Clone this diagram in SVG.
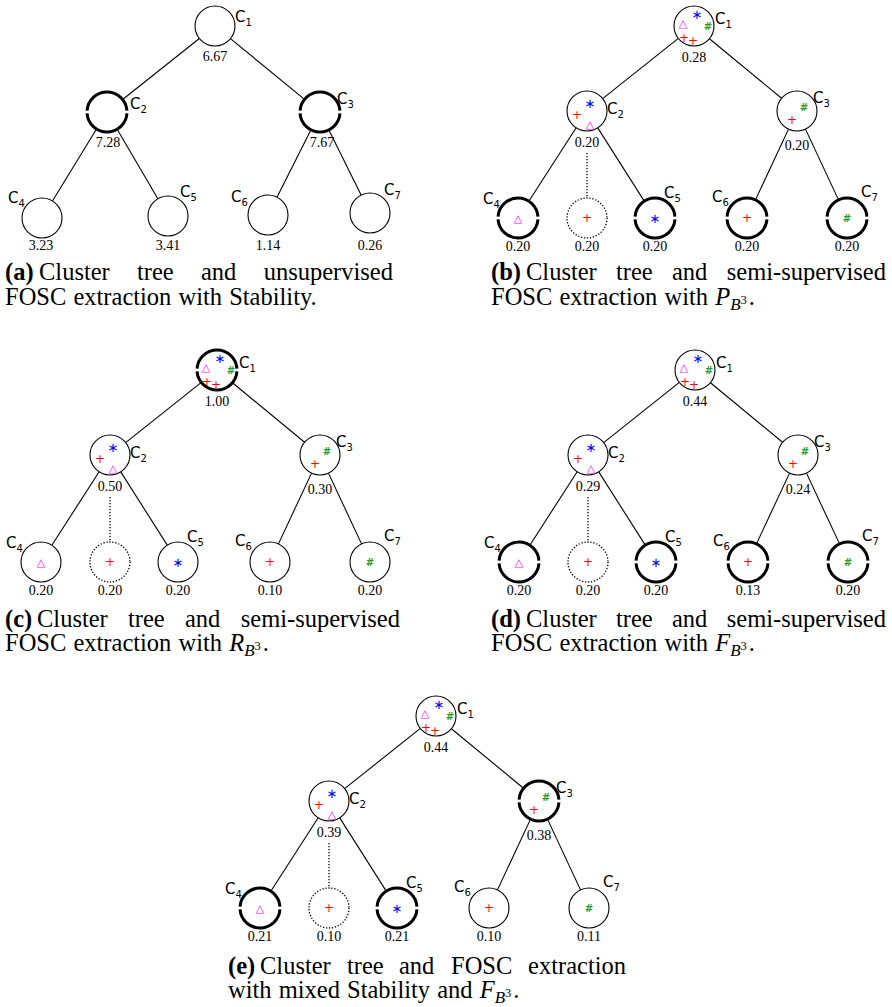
<svg xmlns="http://www.w3.org/2000/svg" xmlns:xlink="http://www.w3.org/1999/xlink" width="892" height="1007" viewBox="0 0 892 1007">
<style>
.e{stroke:#000;stroke-width:1.1;fill:none}
.dl{stroke:#000;stroke-width:1.3;stroke-dasharray:1.3 1.7;fill:none}
.n{fill:#fff;stroke:#000;stroke-width:1.1}
.k{fill:none;stroke:#000;stroke-width:3}
.dc{fill:#fff;stroke:#000;stroke-width:1.3;stroke-dasharray:1.3 1.7}
.v{font-family:"Liberation Serif",serif;font-size:14px;text-anchor:middle;fill:#000}
.l{font-family:"DejaVu Sans",sans-serif;font-size:15px;fill:#000}
.s{font-family:"DejaVu Sans",sans-serif;text-anchor:middle;dominant-baseline:central}
.sr{fill:#ff0000;font-size:12px}
.sb{fill:#0000ff;font-size:13px}
.sg{fill:#2e9b2e;font-size:10px;font-weight:bold}
.sm{fill:#ff00ff;font-size:11px;font-weight:bold}
.cap{font-family:"Liberation Serif",serif;font-size:24.5px;fill:#000}
.bf{font-weight:bold}
.it{font-style:italic}
.end{text-anchor:end}
</style>
<defs>
<path id="tk" class="k" d="M-19.95,-1.4 A20,20 0 0 1 19.95,-1.4 M19.95,1.4 A20,20 0 0 1 -19.95,1.4"/>
</defs>
<rect width="892" height="1007" fill="#fff"/>

<!-- Panel (a) -->
<g id="panel-a">
<g id="a-edges" class="e">
<line x1="199.35" y1="38.46" x2="122.65" y2="99.54"/>
<line x1="230.47" y1="38.67" x2="304.53" y2="99.33"/>
<line x1="96.54" y1="129.05" x2="52.46" y2="200.95"/>
<line x1="117.12" y1="129.25" x2="157.88" y2="198.75"/>
<line x1="310.99" y1="129.85" x2="277.01" y2="197.15"/>
<line x1="328.87" y1="129.92" x2="361.13" y2="195.08"/>
</g>
<g id="a-c1"><circle class="n" cx="215" cy="26" r="20"/><text class="l" x="235" y="22">C<tspan font-size="10" dy="4">1</tspan></text><text class="v" x="215" y="61">6.67</text></g>
<g id="a-c2"><use xlink:href="#tk" x="107" y="112"/><text class="l" x="130" y="109">C<tspan font-size="10" dy="4">2</tspan></text><text class="v" x="108" y="147">7.28</text></g>
<g id="a-c3"><use xlink:href="#tk" x="320" y="112"/><text class="l" x="337" y="104">C<tspan font-size="10" dy="4">3</tspan></text><text class="v" x="322" y="147">7.67</text></g>
<g id="a-c4"><circle class="n" cx="42" cy="218" r="20"/><text class="l" x="8" y="203">C<tspan font-size="10" dy="4">4</tspan></text><text class="v" x="41" y="250">3.23</text></g>
<g id="a-c5"><circle class="n" cx="168" cy="216" r="20"/><text class="l" x="180" y="197">C<tspan font-size="10" dy="4">5</tspan></text><text class="v" x="168" y="250">3.41</text></g>
<g id="a-c6"><circle class="n" cx="268" cy="215" r="20"/><text class="l" x="231" y="202">C<tspan font-size="10" dy="4">6</tspan></text><text class="v" x="268" y="250">1.14</text></g>
<g id="a-c7"><circle class="n" cx="370" cy="213" r="20"/><text class="l" x="384" y="195">C<tspan font-size="10" dy="4">7</tspan></text><text class="v" x="370" y="250">0.26</text></g>
</g>

<!-- Panel (b) -->
<g id="panel-b" transform="translate(477,-344)">
<g id="b-edges">
<line class="e" x1="201.34" y1="382.44" x2="125.66" y2="442.56"/>
<line class="e" x1="232.43" y1="382.73" x2="304.57" y2="442.27"/>
<line class="e" x1="99.16" y1="471.81" x2="51.84" y2="545.19"/>
<line class="e" x1="120.73" y1="471.88" x2="167.27" y2="545.12"/>
<line class="dl" x1="110" y1="497" x2="110" y2="542"/>
<line class="e" x1="311.53" y1="473.12" x2="278.47" y2="543.88"/>
<line class="e" x1="328.47" y1="473.12" x2="361.53" y2="543.88"/>
</g>
<g id="b-c1"><circle class="n" cx="217" cy="370" r="20"/>
<text class="s sb" x="220" y="358">∗</text><text class="s sm" x="206" y="367">△</text><text class="s sg" x="231" y="370">#</text><text class="s sr" x="207" y="382">+</text><text class="s sr" x="216" y="385">+</text>
<text class="l" x="238" y="368">C<tspan font-size="10" dy="4">1</tspan></text><text class="v" x="217" y="406">0.28</text></g>
<g id="b-c2"><circle class="n" cx="110" cy="455" r="20"/>
<text class="s sb" x="113" y="447">∗</text><text class="s sr" x="100" y="459">+</text><text class="s sm" x="113" y="468">△</text>
<text class="l" x="130" y="458">C<tspan font-size="10" dy="4">2</tspan></text><text class="v" x="110" y="491">0.20</text></g>
<g id="b-c3"><circle class="n" cx="320" cy="455" r="20"/>
<text class="s sg" x="327" y="451">#</text><text class="s sr" x="315" y="464">+</text>
<text class="l" x="336" y="447">C<tspan font-size="10" dy="4">3</tspan></text><text class="v" x="320" y="494">0.20</text></g>
<g id="b-c4"><use xlink:href="#tk" x="41" y="562"/><text class="s sm" x="41" y="562">△</text>
<text class="l" x="6" y="548">C<tspan font-size="10" dy="4">4</tspan></text><text class="v" x="41" y="595">0.20</text></g>
<g id="b-d"><circle class="dc" cx="110" cy="562" r="20"/><text class="s sr" x="110" y="562">+</text><text class="v" x="110" y="595">0.20</text></g>
<g id="b-c5"><use xlink:href="#tk" x="178" y="562"/><text class="s sb" x="178" y="562">∗</text>
<text class="l" x="187" y="542">C<tspan font-size="10" dy="4">5</tspan></text><text class="v" x="178" y="595">0.20</text></g>
<g id="b-c6"><use xlink:href="#tk" x="270" y="562"/><text class="s sr" x="270" y="562">+</text>
<text class="l" x="235" y="546">C<tspan font-size="10" dy="4">6</tspan></text><text class="v" x="270" y="595">0.20</text></g>
<g id="b-c7"><use xlink:href="#tk" x="370" y="562"/><text class="s sg" x="370" y="562">#</text>
<text class="l" x="384" y="541">C<tspan font-size="10" dy="4">7</tspan></text><text class="v" x="370" y="595">0.20</text></g>
</g>

<!-- Panel (c) -->
<g id="panel-c">
<g id="c-edges">
<line class="e" x1="201.34" y1="382.44" x2="125.66" y2="442.56"/>
<line class="e" x1="232.43" y1="382.73" x2="304.57" y2="442.27"/>
<line class="e" x1="99.16" y1="471.81" x2="51.84" y2="545.19"/>
<line class="e" x1="120.73" y1="471.88" x2="167.27" y2="545.12"/>
<line class="dl" x1="110" y1="497" x2="110" y2="542"/>
<line class="e" x1="311.53" y1="473.12" x2="278.47" y2="543.88"/>
<line class="e" x1="328.47" y1="473.12" x2="361.53" y2="543.88"/>
</g>
<g id="c-c1"><use xlink:href="#tk" x="217" y="370"/>
<text class="s sb" x="220" y="358">∗</text><text class="s sm" x="206" y="367">△</text><text class="s sg" x="231" y="370">#</text><text class="s sr" x="207" y="382">+</text><text class="s sr" x="216" y="385">+</text>
<text class="l" x="239" y="368">C<tspan font-size="10" dy="4">1</tspan></text><text class="v" x="217" y="406">1.00</text></g>
<g id="c-c2"><circle class="n" cx="110" cy="455" r="20"/>
<text class="s sb" x="113" y="447">∗</text><text class="s sr" x="100" y="459">+</text><text class="s sm" x="113" y="468">△</text>
<text class="l" x="130" y="458">C<tspan font-size="10" dy="4">2</tspan></text><text class="v" x="110" y="491">0.50</text></g>
<g id="c-c3"><circle class="n" cx="320" cy="455" r="20"/>
<text class="s sg" x="327" y="451">#</text><text class="s sr" x="315" y="464">+</text>
<text class="l" x="336" y="447">C<tspan font-size="10" dy="4">3</tspan></text><text class="v" x="320" y="494">0.30</text></g>
<g id="c-c4"><circle class="n" cx="41" cy="562" r="20"/><text class="s sm" x="41" y="562">△</text>
<text class="l" x="6" y="548">C<tspan font-size="10" dy="4">4</tspan></text><text class="v" x="41" y="595">0.20</text></g>
<g id="c-d"><circle class="dc" cx="110" cy="562" r="20"/><text class="s sr" x="110" y="562">+</text><text class="v" x="110" y="595">0.20</text></g>
<g id="c-c5"><circle class="n" cx="178" cy="562" r="20"/><text class="s sb" x="178" y="562">∗</text>
<text class="l" x="187" y="542">C<tspan font-size="10" dy="4">5</tspan></text><text class="v" x="178" y="595">0.20</text></g>
<g id="c-c6"><circle class="n" cx="270" cy="562" r="20"/><text class="s sr" x="270" y="562">+</text>
<text class="l" x="235" y="546">C<tspan font-size="10" dy="4">6</tspan></text><text class="v" x="270" y="595">0.10</text></g>
<g id="c-c7"><circle class="n" cx="370" cy="562" r="20"/><text class="s sg" x="370" y="562">#</text>
<text class="l" x="384" y="541">C<tspan font-size="10" dy="4">7</tspan></text><text class="v" x="370" y="595">0.20</text></g>
</g>

<!-- Panel (d) -->
<g id="panel-d" transform="translate(478,0)">
<g id="d-edges">
<line class="e" x1="201.34" y1="382.44" x2="125.66" y2="442.56"/>
<line class="e" x1="232.43" y1="382.73" x2="304.57" y2="442.27"/>
<line class="e" x1="99.16" y1="471.81" x2="51.84" y2="545.19"/>
<line class="e" x1="120.73" y1="471.88" x2="167.27" y2="545.12"/>
<line class="dl" x1="110" y1="497" x2="110" y2="542"/>
<line class="e" x1="311.53" y1="473.12" x2="278.47" y2="543.88"/>
<line class="e" x1="328.47" y1="473.12" x2="361.53" y2="543.88"/>
</g>
<g id="d-c1"><circle class="n" cx="217" cy="370" r="20"/>
<text class="s sb" x="220" y="358">∗</text><text class="s sm" x="206" y="367">△</text><text class="s sg" x="231" y="370">#</text><text class="s sr" x="207" y="382">+</text><text class="s sr" x="216" y="385">+</text>
<text class="l" x="238" y="368">C<tspan font-size="10" dy="4">1</tspan></text><text class="v" x="217" y="406">0.44</text></g>
<g id="d-c2"><circle class="n" cx="110" cy="455" r="20"/>
<text class="s sb" x="113" y="447">∗</text><text class="s sr" x="100" y="459">+</text><text class="s sm" x="113" y="468">△</text>
<text class="l" x="130" y="458">C<tspan font-size="10" dy="4">2</tspan></text><text class="v" x="110" y="491">0.29</text></g>
<g id="d-c3"><circle class="n" cx="320" cy="455" r="20"/>
<text class="s sg" x="327" y="451">#</text><text class="s sr" x="315" y="464">+</text>
<text class="l" x="336" y="447">C<tspan font-size="10" dy="4">3</tspan></text><text class="v" x="320" y="494">0.24</text></g>
<g id="d-c4"><use xlink:href="#tk" x="41" y="562"/><text class="s sm" x="41" y="562">△</text>
<text class="l" x="6" y="548">C<tspan font-size="10" dy="4">4</tspan></text><text class="v" x="41" y="595">0.20</text></g>
<g id="d-d"><circle class="dc" cx="110" cy="562" r="20"/><text class="s sr" x="110" y="562">+</text><text class="v" x="110" y="595">0.20</text></g>
<g id="d-c5"><use xlink:href="#tk" x="178" y="562"/><text class="s sb" x="178" y="562">∗</text>
<text class="l" x="187" y="542">C<tspan font-size="10" dy="4">5</tspan></text><text class="v" x="178" y="595">0.20</text></g>
<g id="d-c6"><use xlink:href="#tk" x="270" y="562"/><text class="s sr" x="270" y="562">+</text>
<text class="l" x="235" y="546">C<tspan font-size="10" dy="4">6</tspan></text><text class="v" x="270" y="595">0.13</text></g>
<g id="d-c7"><use xlink:href="#tk" x="370" y="562"/><text class="s sg" x="370" y="562">#</text>
<text class="l" x="384" y="541">C<tspan font-size="10" dy="4">7</tspan></text><text class="v" x="370" y="595">0.20</text></g>
</g>

<!-- Panel (e) -->
<g id="panel-e" transform="translate(219,346)">
<g id="e-edges">
<line class="e" x1="201.34" y1="382.44" x2="125.66" y2="442.56"/>
<line class="e" x1="232.43" y1="382.73" x2="304.57" y2="442.27"/>
<line class="e" x1="99.16" y1="471.81" x2="51.84" y2="545.19"/>
<line class="e" x1="120.73" y1="471.88" x2="167.27" y2="545.12"/>
<line class="dl" x1="110" y1="497" x2="110" y2="542"/>
<line class="e" x1="311.53" y1="473.12" x2="278.47" y2="543.88"/>
<line class="e" x1="328.47" y1="473.12" x2="361.53" y2="543.88"/>
</g>
<g id="e-c1"><circle class="n" cx="217" cy="370" r="20"/>
<text class="s sb" x="220" y="358">∗</text><text class="s sm" x="206" y="367">△</text><text class="s sg" x="231" y="370">#</text><text class="s sr" x="207" y="382">+</text><text class="s sr" x="216" y="385">+</text>
<text class="l" x="238" y="368">C<tspan font-size="10" dy="4">1</tspan></text><text class="v" x="217" y="406">0.44</text></g>
<g id="e-c2"><circle class="n" cx="110" cy="455" r="20"/>
<text class="s sb" x="113" y="447">∗</text><text class="s sr" x="100" y="459">+</text><text class="s sm" x="113" y="468">△</text>
<text class="l" x="130" y="458">C<tspan font-size="10" dy="4">2</tspan></text><text class="v" x="110" y="491">0.39</text></g>
<g id="e-c3"><use xlink:href="#tk" x="320" y="455"/>
<text class="s sg" x="327" y="451">#</text><text class="s sr" x="315" y="464">+</text>
<text class="l" x="337" y="447">C<tspan font-size="10" dy="4">3</tspan></text><text class="v" x="320" y="494">0.38</text></g>
<g id="e-c4"><use xlink:href="#tk" x="41" y="562"/><text class="s sm" x="41" y="562">△</text>
<text class="l" x="6" y="548">C<tspan font-size="10" dy="4">4</tspan></text><text class="v" x="41" y="595">0.21</text></g>
<g id="e-d"><circle class="dc" cx="110" cy="562" r="20"/><text class="s sr" x="110" y="562">+</text><text class="v" x="110" y="595">0.10</text></g>
<g id="e-c5"><use xlink:href="#tk" x="178" y="562"/><text class="s sb" x="178" y="562">∗</text>
<text class="l" x="187" y="542">C<tspan font-size="10" dy="4">5</tspan></text><text class="v" x="178" y="595">0.21</text></g>
<g id="e-c6"><circle class="n" cx="270" cy="562" r="20"/><text class="s sr" x="270" y="562">+</text>
<text class="l" x="235" y="546">C<tspan font-size="10" dy="4">6</tspan></text><text class="v" x="270" y="595">0.10</text></g>
<g id="e-c7"><circle class="n" cx="370" cy="562" r="20"/><text class="s sg" x="370" y="562">#</text>
<text class="l" x="384" y="541">C<tspan font-size="10" dy="4">7</tspan></text><text class="v" x="370" y="595">0.11</text></g>
</g>

<!-- Captions -->
<g id="captions">
<text class="cap bf" x="5" y="280">(a)</text><text class="cap" x="39" y="280">Cluster</text><text class="cap" x="137" y="280">tree</text><text class="cap" x="201" y="280">and</text><text class="cap end" x="393" y="280">unsupervised</text>
<text class="cap" y="305" x="5" word-spacing="1">FOSC extraction with Stability.</text>

<text class="cap bf" x="491" y="280">(b)</text><text class="cap" x="526" y="280">Cluster</text><text class="cap" x="616" y="280">tree</text><text class="cap" x="672" y="280">and</text><text class="cap end" x="886" y="280">semi-supervised</text>
<text class="cap" y="305" x="491" word-spacing="1">FOSC extraction with <tspan class="it">P</tspan><tspan class="it" font-size="17" dy="5">B</tspan><tspan font-size="12.5" dy="-6">3</tspan><tspan dx="2" dy="1">.</tspan></text>

<text class="cap bf" x="5" y="627">(c)</text><text class="cap" x="37" y="627">Cluster</text><text class="cap" x="128" y="627">tree</text><text class="cap" x="185" y="627">and</text><text class="cap end" x="400" y="627">semi-supervised</text>
<text class="cap" y="651" x="5" word-spacing="1">FOSC extraction with <tspan class="it">R</tspan><tspan class="it" font-size="17" dy="5">B</tspan><tspan font-size="12.5" dy="-6">3</tspan><tspan dx="2" dy="1">.</tspan></text>

<text class="cap bf" x="491" y="627">(d)</text><text class="cap" x="526" y="627">Cluster</text><text class="cap" x="616" y="627">tree</text><text class="cap" x="672" y="627">and</text><text class="cap end" x="886" y="627">semi-supervised</text>
<text class="cap" y="651" x="491" word-spacing="1">FOSC extraction with <tspan class="it">F</tspan><tspan class="it" font-size="17" dy="5">B</tspan><tspan font-size="12.5" dy="-6">3</tspan><tspan dx="2" dy="1">.</tspan></text>

<text class="cap bf" x="228" y="974">(e)</text><text class="cap" x="260" y="974">Cluster</text><text class="cap" x="347" y="974">tree</text><text class="cap" x="399" y="974">and</text><text class="cap" x="451" y="974">FOSC</text><text class="cap end" x="626" y="974">extraction</text>
<text class="cap" y="998" x="228" word-spacing="1">with mixed Stability and <tspan class="it">F</tspan><tspan class="it" font-size="17" dy="5">B</tspan><tspan font-size="12.5" dy="-6">3</tspan><tspan dx="2" dy="1">.</tspan></text>
</g>
</svg>
